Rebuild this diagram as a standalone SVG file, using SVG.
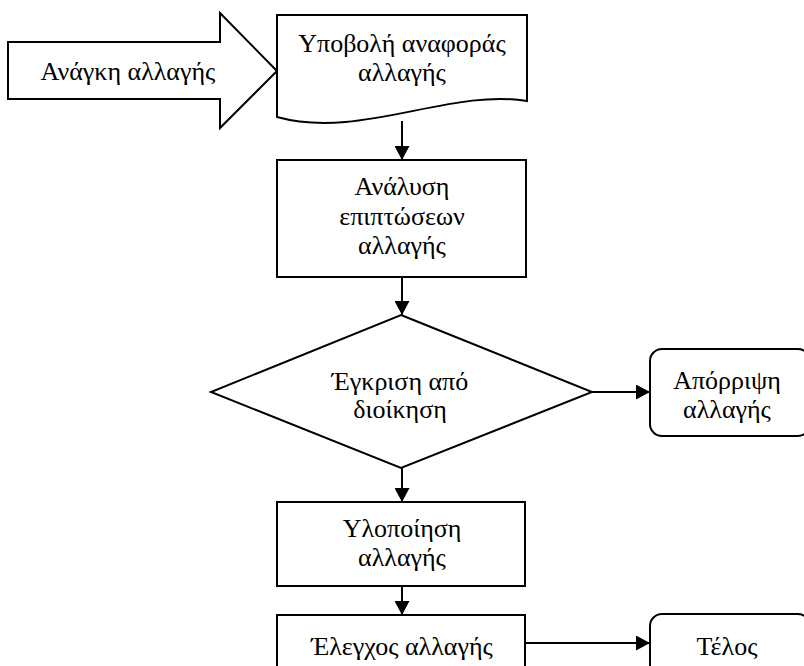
<svg xmlns="http://www.w3.org/2000/svg" width="804" height="666" viewBox="0 0 804 666">
  <style>
    .shape { fill: #ffffff; stroke: #000000; stroke-width: 2; stroke-linejoin: miter; }
    .line { fill: none; stroke: #000000; stroke-width: 2; }
    text { font-family: "Liberation Serif", "Times New Roman", serif; font-size: 26px; fill: #000000; text-anchor: middle; }
  </style>
  <defs>
    <marker id="head" viewBox="0 0 14 15" refX="14" refY="7.5" markerWidth="14" markerHeight="15" markerUnits="userSpaceOnUse" orient="auto">
      <path d="M0,0 L14,7.5 L0,15 Z" fill="#000000"/>
    </marker>
  </defs>
  <rect width="804" height="666" fill="#ffffff"/>

  <!-- connectors -->
  <g id="connectors">
    <line class="line" x1="402" y1="121" x2="402" y2="160" marker-end="url(#head)"/>
    <line class="line" x1="402" y1="277" x2="402" y2="315" marker-end="url(#head)"/>
    <line class="line" x1="592" y1="392" x2="650" y2="392" marker-end="url(#head)"/>
    <line class="line" x1="402" y1="468" x2="402" y2="502" marker-end="url(#head)"/>
    <line class="line" x1="402" y1="586" x2="402" y2="615" marker-end="url(#head)"/>
    <line class="line" x1="524" y1="643" x2="650" y2="643" marker-end="url(#head)"/>
  </g>

  <!-- incoming block arrow -->
  <g id="need">
    <path class="shape" d="M8,42 H220 V13 L277,71 L220,128 V99 H8 Z"/>
    <text x="128" y="80">Ανάγκη αλλαγής</text>
  </g>

  <!-- document shape -->
  <g id="submit">
    <path class="shape" d="M277,15 H527 V101 C 450,88 360,140 277,117 Z"/>
    <text x="402" y="52">Υποβολή αναφοράς</text>
    <text x="402" y="81">αλλαγής</text>
  </g>

  <g id="analysis">
    <rect class="shape" x="277" y="160" width="249" height="117"/>
    <text x="402" y="195">Ανάλυση</text>
    <text x="402" y="225">επιπτώσεων</text>
    <text x="402" y="254">αλλαγής</text>
  </g>

  <g id="approval">
    <path class="shape" d="M401,315 L592,392 L401,468 L211,392 Z"/>
    <text x="400" y="390">Έγκριση από</text>
    <text x="400" y="418">διοίκηση</text>
  </g>

  <g id="reject">
    <rect class="shape" x="650" y="349" width="160" height="87" rx="12" ry="12"/>
    <text x="727" y="389">Απόρριψη</text>
    <text x="727" y="418">αλλαγής</text>
  </g>

  <g id="implement">
    <rect class="shape" x="277" y="502" width="248" height="84"/>
    <text x="402" y="537">Υλοποίηση</text>
    <text x="402" y="566">αλλαγής</text>
  </g>

  <g id="check">
    <rect class="shape" x="277" y="615" width="248" height="70"/>
    <text x="402" y="655">Έλεγχος αλλαγής</text>
  </g>

  <g id="end">
    <rect class="shape" x="650" y="614" width="160" height="70" rx="12" ry="12"/>
    <text x="727" y="655">Τέλος</text>
  </g>
</svg>
